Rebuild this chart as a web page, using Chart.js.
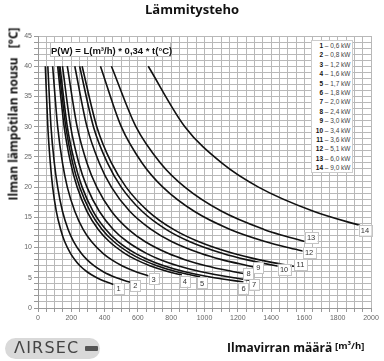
<!DOCTYPE html>
<html>
<head>
<meta charset="utf-8">
<script src="https://cdn.jsdelivr.net/npm/chart.js@4"></script>
<style>
body{margin:0;width:384px;height:361px;position:relative;background:#fff;overflow:hidden;font-family:"Open Sans",sans-serif}
#wrap{position:absolute;left:0;top:0;width:384px;height:361px}
.t{position:absolute;white-space:nowrap;font-weight:bold;color:#111;z-index:2;font-family:"Open Sans",sans-serif}
#title{left:0;width:384px;top:0px;text-align:center;font-size:13px}
#ytitle{left:13px;top:114px;font-size:12px;transform:translate(-50%,-50%) rotate(-90deg)}
#xtitle{left:227px;top:339px;font-size:12px}
#xunit{left:335px;top:339px;font-size:9.5px}
#formula{left:50px;top:42px;width:121px;height:15px;line-height:15px;text-align:center;background:#fff;border:1px solid #bbb;
 font-family:"Liberation Sans",Arial,sans-serif;font-size:9.5px;box-sizing:border-box}
#legend{position:absolute;left:311px;top:40px;width:42px;height:133px;background:#fff;border:1px solid #ccc;box-sizing:border-box;
 z-index:2;font-family:"Liberation Sans",Arial,sans-serif;font-size:6.5px;color:#444}
#legend div{height:9.4px;line-height:9.4px;white-space:nowrap}
#legend b{display:inline-block;width:11px;text-align:right;color:#111}
#logo{position:absolute;left:5px;top:338px;width:95px;height:21px;border-radius:11px;background:#d9d9d9;z-index:2}
#logo span{position:absolute;left:9px;top:0px;font-family:"DejaVu Sans",sans-serif;font-size:16px;color:#444;letter-spacing:1.2px;font-weight:normal}
#logo i{position:absolute;left:80px;top:8px;width:13px;height:5px;background:#555;border-radius:1px}
</style>
</head>
<body>
<div id="wrap"><canvas id="c"></canvas></div>
<div class="t" id="title">Lämmitysteho</div>
<div class="t" id="ytitle">Ilman lämpötilan nousu <span style="margin-left:6px">[°C]</span></div>
<div class="t" id="xtitle">Ilmavirran määrä</div>
<div class="t" id="xunit">[m³/h]</div>
<div class="t" id="formula">P(W) = L(m³/h) * 0,34 * t(°C)</div>
<div id="legend"></div>
<div id="logo"><span>ΛIRSEC</span><i></i></div>
<script>
// curve names and heating powers (kW)
const curveNames = ['1','2','3','4','5','6','7','8','9','10','11','12','13','14'];
const powersKw = ['0,6','0,8','1,2','1,6','1,7','1,8','2,0','2,4','3,0','3,4','3,6','5,1','6,0','9,0'];

// points: [airflow m3/h, temperature rise °C]
const curvePoints = [
  [[44,40],[59,30],[74,24],[88,20],[110,16],[136,13],[160,11],[196,9],[221,8],[252,7],[294,6],[353,5],[392,4.5],[454,3.9]],
  [[59,40],[78,30],[98,24],[118,20],[147,16],[181,13],[214,11],[261,9],[294,8],[336,7],[392,6],[471,5],[523,4.5],[554,4.25]],
  [[88,40],[118,30],[147,24],[176,20],[221,16],[271,13],[321,11],[392,9],[441,8],[504,7],[588,6],[664,5.3]],
  [[118,40],[157,30],[196,24],[235,20],[294,16],[362,13],[428,11],[523,9],[588,8],[672,7],[784,6],[864,5.45]],
  [[125,40],[167,30],[208,24],[250,20],[313,16],[385,13],[455,11],[556,9],[625,8],[714,7],[833,6],[974,5.13]],
  [[132,40],[176,30],[221,24],[265,20],[331,16],[407,13],[481,11],[588,9],[662,8],[756,7],[882,6],[1059,5],[1234,4.3]],
  [[147,40],[196,30],[245,24],[294,20],[368,16],[452,13],[535,11],[654,9],[735,8],[840,7],[980,6],[1176,5],[1274,4.6]],
  [[176,40],[235,30],[294,24],[353,20],[441,16],[543,13],[642,11],[784,9],[882,8],[1008,7],[1176,6],[1234,5.7]],
  [[221,40],[294,30],[368,24],[441,20],[551,16],[679,13],[802,11],[980,9],[1103,8],[1261,7],[1294,6.8]],
  [[250,40],[333,30],[417,24],[500,20],[625,16],[769,13],[909,11],[1111,9],[1250,8],[1429,7],[1454,6.9]],
  [[265,40],[353,30],[441,24],[529,20],[662,16],[814,13],[963,11],[1176,9],[1324,8],[1513,7],[1546,6.85]],
  [[375,40],[500,30],[625,24],[750,20],[938,16],[1154,13],[1364,11],[1500,10],[1604,9.35]],
  [[441,40],[588,30],[735,24],[882,20],[1103,16],[1357,13],[1471,12],[1604,11]],
  [[662,40],[882,30],[1103,24],[1324,20],[1654,16],[1891,14],[1934,13.7]]
];

// axis ranges
const xMax = 2000, xLabelStep = 200, xGridStep = 50;
const yMax = 45, yLabelStep = 5, yGridStep = 1;

// legend box
document.getElementById('legend').innerHTML = curveNames.map((n, i) =>
  '<div><b>' + n + '</b> – ' + powersKw[i] + ' kW</div>').join('');

// number boxes at the end of each curve
const endLabels = {
  id: 'endLabels',
  afterDatasetsDraw(chart) {
    const ctx = chart.ctx;
    const nudge = [[5,4],[5,3],[5,3],[3,6],[2,6],[0,6],[4,4],[5,0],[5,1],[4,3],[5,-2],[4,1],[6,-4],[5,5]];
    ctx.save();
    ctx.font = '7.5px "Liberation Sans", Arial, sans-serif';
    ctx.textAlign = 'center';
    ctx.textBaseline = 'middle';
    chart.data.datasets.forEach((ds, i) => {
      const pts = chart.getDatasetMeta(i).data;
      const p = pts[pts.length - 1];
      const cx = p.x + nudge[i][0], cy = p.y + nudge[i][1];
      const w = ds.label.length > 1 ? 13 : 10, h = 11;
      ctx.fillStyle = '#fff';
      ctx.fillRect(cx - w / 2, cy - h / 2, w, h);
      ctx.strokeStyle = '#c4c4c4';
      ctx.lineWidth = 1;
      ctx.strokeRect(Math.round(cx - w / 2) + 0.5, Math.round(cy - h / 2) + 0.5, w, h);
      ctx.fillStyle = '#333';
      ctx.fillText(ds.label, cx, cy + 0.5);
    });
    ctx.restore();
  }
};

new Chart(document.getElementById('c'), {
  type: 'line',
  data: {
    datasets: curvePoints.map((pts, i) => ({
      label: curveNames[i],
      data: pts.map(p => ({x: p[0], y: p[1]})),
      borderColor: '#111',
      borderWidth: 1.6,
      pointRadius: 0,
      cubicInterpolationMode: 'monotone',
      fill: false
    }))
  },
  options: {
    responsive: true,
    maintainAspectRatio: false,
    animation: false,
    layout: {padding: {top: 36, right: 13, left: 0, bottom: 0}},
    plugins: {legend: {display: false}, tooltip: {enabled: false}},
    scales: {
      x: {
        type: 'linear', min: 0, max: xMax,
        afterFit: s => { s.height = 53; },
        ticks: {
          stepSize: xGridStep, autoSkip: false, maxRotation: 0, padding: 2,
          color: '#666', font: {size: 7, family: '"Liberation Sans", Arial, sans-serif'},
          callback: v => v % xLabelStep === 0 ? v : ''
        },
        grid: {color: '#b8b8b8', lineWidth: 1, tickLength: 4, tickColor: '#999'},
        border: {color: '#999'}
      },
      y: {
        type: 'linear', min: 0, max: yMax,
        afterFit: s => { s.width = 38; },
        ticks: {
          stepSize: yGridStep, autoSkip: false, padding: 2,
          color: '#666', font: {size: 7, family: '"Liberation Sans", Arial, sans-serif'},
          callback: v => v % yLabelStep === 0 ? v : ''
        },
        grid: {color: '#b8b8b8', lineWidth: 1, tickLength: 4, tickColor: '#999'},
        border: {color: '#999'}
      }
    }
  },
  plugins: [endLabels]
});
</script>
</body>
</html>
